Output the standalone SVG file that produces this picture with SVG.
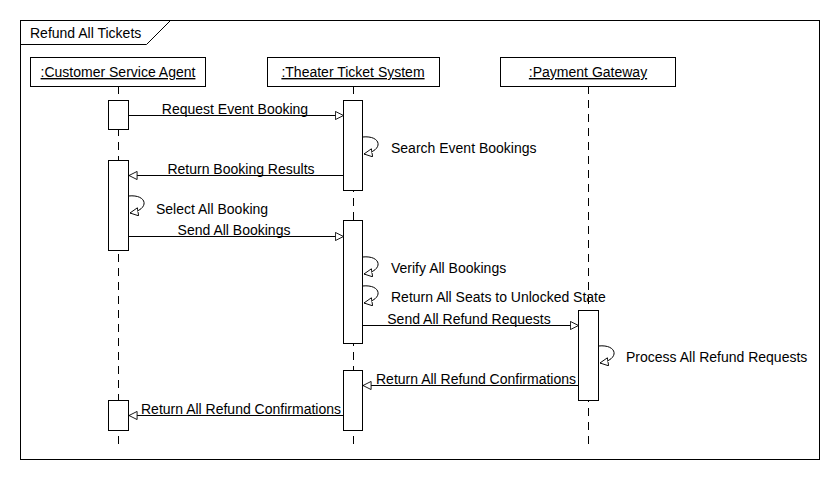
<svg xmlns="http://www.w3.org/2000/svg" width="840" height="480" viewBox="0 0 840 480">
<style>
text{font-family:"Liberation Sans",Arial,sans-serif;font-size:14px;fill:#000}
.u{text-decoration:underline}
.box{fill:#fff;stroke:#000;stroke-width:1}
.life{stroke:#000;stroke-width:1;stroke-dasharray:8,6;fill:none}
.act{fill:#fff;stroke:#000;stroke-width:1}
.msg{stroke:#000;stroke-width:1;fill:none;marker-end:url(#arr)}
</style>
<defs>
<marker id="arr" viewBox="0 0 10 10" refX="9.5" refY="5" markerWidth="9" markerHeight="9" markerUnits="userSpaceOnUse" orient="auto">
<path d="M0.5,0.5 L9.5,5 L0.5,9.5 Z" fill="#fff" stroke="#000" stroke-width="1"/>
</marker>
</defs>
<rect width="840" height="480" fill="#fff"/>
<g id="frame">
<rect x="20.5" y="20.5" width="799" height="439" fill="none" stroke="#000"/>
<path d="M20.5,44.5 H146.5 L170.5,20.5" fill="none" stroke="#000"/>
<text x="30" y="38">Refund All Tickets</text>
</g>
<g id="lifelines">
<line class="life" x1="118.5" y1="86" x2="118.5" y2="450"/>
<line class="life" x1="353.5" y1="86" x2="353.5" y2="450"/>
<line class="life" x1="588.5" y1="86" x2="588.5" y2="450"/>
</g>
<g id="customer">
<rect class="box" x="30.5" y="57.5" width="175" height="29"/>
<text class="u" x="118" y="77" text-anchor="middle">:Customer Service Agent</text>
<rect class="act" x="108.5" y="100.5" width="20" height="29"/>
<rect class="act" x="108.5" y="160.5" width="20" height="90"/>
<rect class="act" x="108.5" y="400.5" width="20" height="30"/>
</g>
<g id="theater">
<rect class="box" x="267.5" y="57.5" width="172" height="29"/>
<text class="u" x="353" y="77" text-anchor="middle">:Theater Ticket System</text>
<rect class="act" x="343.5" y="100.5" width="19" height="90"/>
<rect class="act" x="343.5" y="220.5" width="19" height="123"/>
<rect class="act" x="343.5" y="370.5" width="19" height="60"/>
</g>
<g id="gateway">
<rect class="box" x="500.5" y="57.5" width="175" height="29"/>
<text class="u" x="588" y="77" text-anchor="middle">:Payment Gateway</text>
<rect class="act" x="578.5" y="310.5" width="20" height="90"/>
</g>
<g id="connectors">
<line class="msg" x1="128.5" y1="115.5" x2="343.5" y2="115.5"/>
<path class="msg" d="M362.5,137 C382,135 384,151 364,154"/>
<line class="msg" x1="343.5" y1="175.5" x2="129" y2="175.5"/>
<path class="msg" d="M128.5,196 C148,194 150,210 130,213"/>
<line class="msg" x1="128.5" y1="236.5" x2="343.5" y2="236.5"/>
<path class="msg" d="M362.5,257 C382,255 384,271 364,274"/>
<path class="msg" d="M362.5,286 C382,284 384,300 364,303"/>
<line class="msg" x1="362.5" y1="325.5" x2="578.5" y2="325.5"/>
<path class="msg" d="M598.5,346 C618,344 620,360 600,363"/>
<line class="msg" x1="578.5" y1="385.5" x2="363" y2="385.5"/>
<line class="msg" x1="343.5" y1="415.5" x2="129" y2="415.5"/>
</g>
<g id="labels">
<text x="235" y="114" text-anchor="middle">Request Event Booking</text>
<text x="391" y="153">Search Event Bookings</text>
<text x="241" y="174" text-anchor="middle">Return Booking Results</text>
<text x="156" y="214">Select All Booking</text>
<text x="234" y="235" text-anchor="middle">Send All Bookings</text>
<text x="391" y="273">Verify All Bookings</text>
<text x="391" y="302">Return All Seats to Unlocked State</text>
<text x="469" y="324" text-anchor="middle">Send All Refund Requests</text>
<text x="626" y="362">Process All Refund Requests</text>
<text x="476" y="384" text-anchor="middle">Return All Refund Confirmations</text>
<text x="241" y="414" text-anchor="middle">Return All Refund Confirmations</text>
</g>
</svg>
